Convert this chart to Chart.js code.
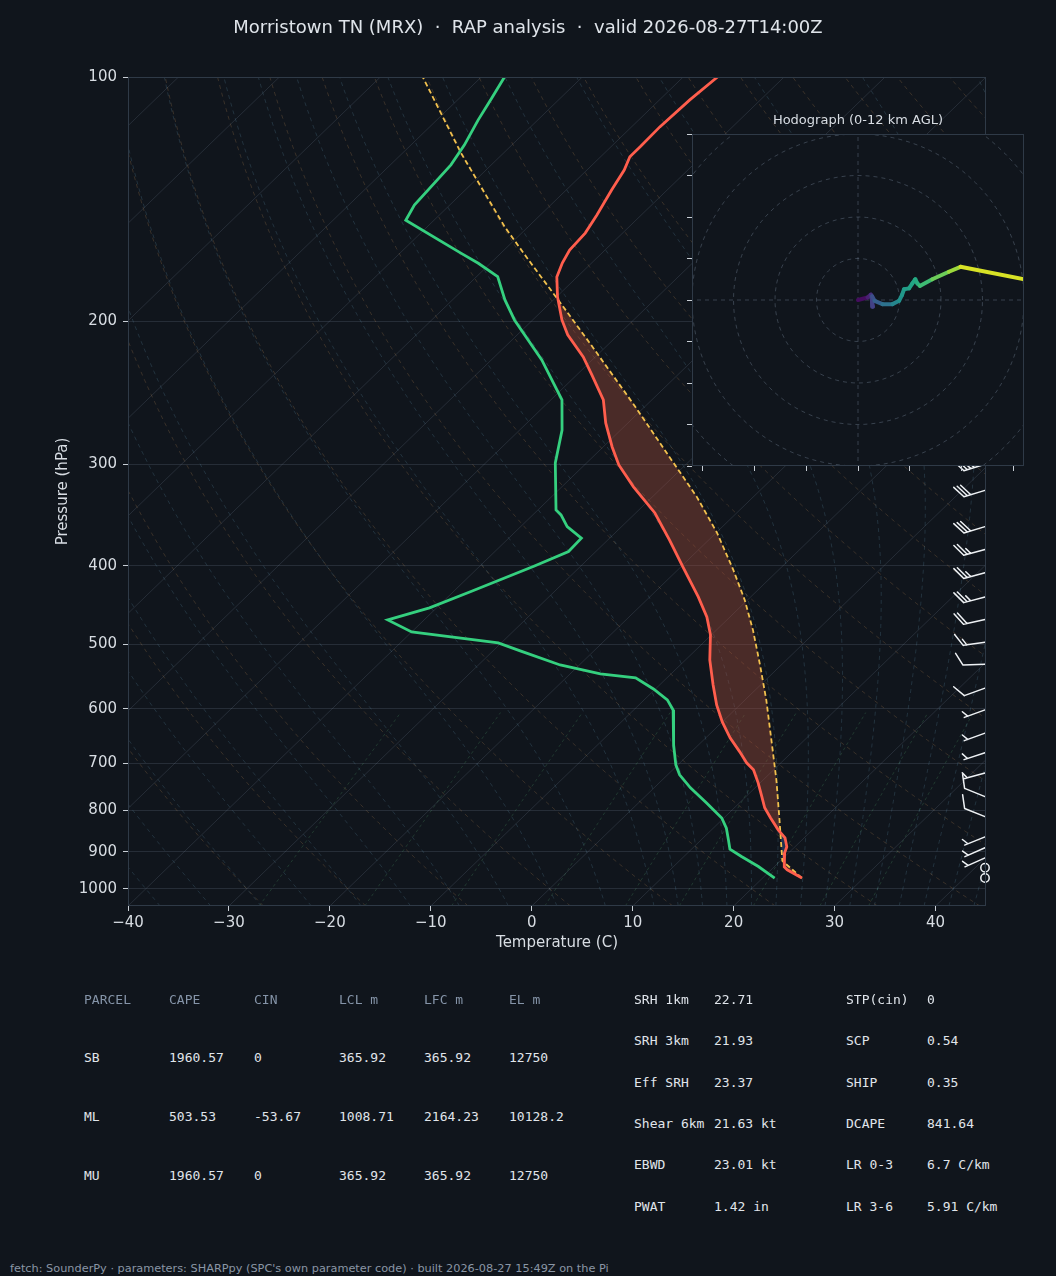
<!DOCTYPE html>
<html>
<head>
<meta charset="utf-8">
<title>Skew-T MRX</title>
<script src="https://cdn.jsdelivr.net/npm/chart.js@4.4.1/dist/chart.umd.min.js"></script>
<style>
  html, body { margin: 0; padding: 0; background: #10151c; }
  body { position: relative; width: 1056px; height: 1276px; overflow: hidden; font-family: "DejaVu Sans", sans-serif; color: #dfe4ea; }
  #title { position: absolute; left: 0; top: 16px; width: 1056px; text-align: center; font-size: 18px; line-height: 22px; white-space: pre; }
  #skewBox { position: absolute; left: 0; top: 0; width: 1056px; height: 1000px; }
  #hodoBox { position: absolute; left: 682px; top: 124px; width: 346px; height: 352px; }
  #hodoTitle { position: absolute; left: 692px; top: 112px; width: 332px; text-align: center; font-size: 13px; line-height: 16px; color: #d8dde3; }
  .cell { position: absolute; font-family: "DejaVu Sans Mono", monospace; font-size: 13px; line-height: 16px; white-space: pre; color: #e0e5eb; }
  .hdr { color: #8594a8; }
  #foot { position: absolute; left: 10px; top: 1262px; font-size: 11.3px; line-height: 14px; color: #8a96a5; white-space: pre; }
</style>
</head>
<body>
<div id="skewBox"><canvas id="skew"></canvas></div>
<div id="title">Morristown TN (MRX)  ·  RAP analysis  ·  valid 2026-08-27T14:00Z</div>
<div id="hodoTitle">Hodograph (0-12 km AGL)</div>
<div id="hodoBox"><canvas id="hodo"></canvas></div>
<div id="tables"></div>
<div id="foot">fetch: SounderPy · parameters: SHARPpy (SPC's own parameter code) · built 2026-08-27 15:49Z on the Pi</div>
<script>
// environment temperature (hPa, C)
const envP = [100, 106.7, 115.2, 121.9, 125.4, 130.2, 137.8, 147.9, 155.7, 163.4, 169.5, 176.4, 186.6, 199.2, 207.8,
  221.2, 232.8, 249.9, 266.8, 285.6, 300.5, 319.8, 344.4, 371.7, 401.3, 436.9, 462.4, 486.6, 522.4, 560.9, 593.6,
  622.9, 651.6, 678.1, 699.5, 713.5, 740.4, 770.3, 794.6, 817.5, 845.9, 865.4, 887.8, 903.0, 939.6, 947.6, 970];
const envT = [-66.6, -67.0, -67.2, -67.1, -67.1, -66.3, -65.5, -64.4, -63.7, -63.5, -62.9, -62.0, -59.9, -57.1, -55.0,
  -51.2, -48.5, -44.8, -42.2, -39.1, -36.6, -32.9, -28.1, -23.9, -19.8, -15.2, -12.3, -10.1, -7.6, -4.7, -2.3,
  0.0, 2.4, 4.8, 6.6, 8.0, 9.8, 11.6, 13.0, 14.6, 16.6, 18.1, 19.2, 19.6, 21.0, 21.6, 23.9];

// dewpoint
const dwpP = [100, 106.2, 113.0, 121.3, 128.3, 143.8, 150.1, 164.9, 169.6, 176.2, 188.2, 199.2, 223.1, 249.9, 272.2,
  298.8, 341.5, 346.3, 357.9, 369.9, 384.2, 400.2, 430.7, 450.8, 466.4, 482.6, 497.8, 509.3, 530.0, 543.6, 549.8,
  567.3, 585.2, 602.1, 628.1, 664.7, 703.6, 723.8, 750.9, 784.3, 818.1, 842.0, 870.4, 893.6, 912.5, 938.7, 970];
const dwpT = [-87.7, -86.8, -85.9, -84.7, -84.0, -83.5, -82.8, -73.9, -71.2, -67.9, -64.8, -61.8, -55.0, -48.9, -45.8,
  -43.1, -38.2, -37.2, -35.4, -32.8, -32.7, -34.6, -38.3, -40.7, -43.6, -40.0, -30.3, -27.3, -21.9, -17.0, -13.1,
  -10.2, -7.7, -6.1, -4.5, -2.5, -0.2, 1.2, 3.6, 6.8, 9.8, 11.3, 12.7, 13.8, 15.7, 18.4, 21.2];

// surface parcel path
const parP = [970, 923.9, 822.2, 734.2, 655.4, 585.2, 530.0, 479.8, 440.6, 404.7, 364.4, 329.0, 293.8, 252.0, 212.6,
  189.8, 167.1, 153.0, 124.1, 100];
const parT = [23.9, 20.2, 15.7, 11.3, 6.7, 2.1, -2.1, -6.4, -10.3, -14.5, -19.9, -25.6, -32.4, -41.6, -52.0,
  -59.0, -66.9, -72.3, -84.2, -95.8];

// wind barbs (hPa, kt, deg)
const barbP = [300, 323, 358, 382, 408, 437, 466, 497, 529, 566, 602, 643, 680, 720, 770, 815, 863, 890, 916, 942, 970];
const barbSpd = [35, 30, 30, 25, 25, 25, 20, 15, 10, 10, 5, 5, 5, 5, 10, 10, 5, 5, 5, 0, 0];
const barbDir = [253, 253, 253, 255, 255, 255, 258, 262, 268, 250, 250, 250, 252, 255, 292, 292, 248, 246, 246, 0, 0];

// hodograph (kt) and height (km AGL) for the colour
const hodoU = [0, 2.3, 3.1, 3.6, 3.4, 4.0, 5.9, 8.3, 9.9, 10.6, 11.1, 12.3, 13.1, 13.8, 14.3, 14.9, 17.9, 21.9, 24.7, 45];
const hodoV = [0, 0.6, 1.3, -1.6, 0.9, -0.2, -1.0, -1.0, -0.2, 1.2, 2.6, 2.8, 4.0, 5.0, 4.0, 3.4, 5.0, 6.8, 8.0, 4.0];
const hodoZ = [0, 0.8, 1.4, 2.0, 2.6, 3.2, 4.0, 5.0, 5.8, 6.2, 6.5, 6.8, 7.0, 7.2, 7.4, 7.6, 8.8, 9.8, 10.6, 12];

const pTicks = [100, 200, 300, 400, 500, 600, 700, 800, 900, 1000];
const tTicks = [-40, -30, -20, -10, 0, 10, 20, 30, 40];
const hodoXTicks = [-37.5, -25, -12.5, 0, 12.5, 25, 37.5];
const hodoYTicks = [-40, -30, -20, -10, 0, 10, 20, 30, 40];

// parameter tables
const parcelHead = ['PARCEL', 'CAPE', 'CIN', 'LCL m', 'LFC m', 'EL m'];
const parcelRows = [
  ['SB', '1960.57', '0', '365.92', '365.92', '12750'],
  ['ML', '503.53', '-53.67', '1008.71', '2164.23', '10128.2'],
  ['MU', '1960.57', '0', '365.92', '365.92', '12750']
];
const paramRows = [
  ['SRH 1km', '22.71', 'STP(cin)', '0'],
  ['SRH 3km', '21.93', 'SCP', '0.54'],
  ['Eff SRH', '23.37', 'SHIP', '0.35'],
  ['Shear 6km', '21.63 kt', 'DCAPE', '841.64'],
  ['EBWD', '23.01 kt', 'LR 0-3', '6.7 C/km'],
  ['PWAT', '1.42 in', 'LR 3-6', '5.91 C/km']
];

const P_BOT = 1050, P_TOP = 100, T_MIN = -40, T_MAX = 45;
const SKEW = (T_MAX - T_MIN) / Math.log10(P_BOT / P_TOP);
const BG = '#10151c';
const FRAME = '#2f3a47';
const TXT = '#d8dde3';

Chart.defaults.font.family = 'DejaVu Sans';

function skx(t, p) { return t + SKEW * Math.log10(P_BOT / p); }
function prof(P, T) { return P.map((p, i) => ({x: skx(T[i], p), y: p})); }

function interpT(P, T, p) {
  for (let i = 0; i < P.length - 1; i++) {
    const a = P[i], b = P[i + 1];
    if ((p - a) * (p - b) <= 0) {
      if (a === b) return T[i];
      const f = Math.log(p / a) / Math.log(b / a);
      return T[i] + f * (T[i + 1] - T[i]);
    }
  }
  return NaN;
}

// background reference lines
const bgP = [];
for (let i = 0; i <= 60; i++) bgP.push(P_BOT * Math.pow(P_TOP / P_BOT, i / 60));

function lapse(t, p) {
  const Rd = 287.04, Cp = 1005.7, Lv = 2.501e6, eps = 0.622;
  const es = 6.112 * Math.exp(17.67 * (t - 273.15) / (t - 29.65));
  const rs = eps * es / (p - es);
  return (Rd * t + Lv * rs) / (Cp + Lv * Lv * rs * eps / (Rd * t * t)) / p;
}

function moistLine(t0) {
  const up = [], dn = [];
  let t = t0 + 273.15, p = 1000;
  up.push({x: skx(t0, 1000), y: 1000});
  while (p > P_TOP) {
    const dp = -5;
    const k1 = lapse(t, p), k2 = lapse(t + k1 * dp / 2, p + dp / 2);
    t += k2 * dp; p += dp;
    up.push({x: skx(t - 273.15, p), y: p});
  }
  t = t0 + 273.15; p = 1000;
  while (p < P_BOT) {
    const dp = 5;
    const k1 = lapse(t, p), k2 = lapse(t + k1 * dp / 2, p + dp / 2);
    t += k2 * dp; p += dp;
    dn.unshift({x: skx(t - 273.15, p), y: p});
  }
  return dn.concat(up);
}

function bgLine(data, color, dash) {
  return {data, showLine: true, borderColor: color, borderWidth: 1, borderDash: dash, pointRadius: 0, fill: false, order: 20};
}

const datasets = [];
for (let t = -130; t <= 40; t += 10) {
  datasets.push(bgLine([{x: skx(t, P_BOT), y: P_BOT}, {x: skx(t, P_TOP), y: P_TOP}], 'rgba(150,168,188,0.17)', []));
}
for (let t0 = -30; t0 <= 200; t0 += 10) {
  datasets.push(bgLine(bgP.map(p => ({x: skx((t0 + 273.15) * Math.pow(p / 1000, 0.2857) - 273.15, p), y: p})),
    'rgba(205,150,90,0.22)', [4, 4]));
}
const moistT0 = [-50, -45, -40, -35, -30, -25, -20, -15, -10, -5, 0, 5, 10, 12.5, 15, 17.5, 20, 22.5, 25, 27.5, 30, 32.5, 35, 37.5, 40, 42.5, 45];
moistT0.forEach(t0 => datasets.push(bgLine(moistLine(t0), 'rgba(110,170,200,0.2)', [4, 4])));
const mixW = [0.0004, 0.001, 0.002, 0.004, 0.007, 0.01, 0.016, 0.024, 0.032];
mixW.forEach(w => {
  const pts = bgP.filter(p => p >= 600).map(p => {
    const e = p * w / (0.622 + w), l = Math.log(e / 6.112);
    return {x: skx(243.5 * l / (17.67 - l), p), y: p};
  });
  datasets.push(bgLine(pts, 'rgba(100,200,130,0.2)', [3, 3]));
});

// CAPE / CIN shading between the parcel and the environment
const levels = [...new Set([...envP, ...parP])].filter(p => p >= 100 && p <= 970).sort((a, b) => b - a);
function areaShape(keep, pick) {
  const lv = levels.filter(keep);
  const pts = lv.map(p => ({x: skx(interpT(envP, envT, p), p), y: p}));
  lv.slice().reverse().forEach(p => {
    pts.push({x: skx(pick(interpT(envP, envT, p), interpT(parP, parT, p)), p), y: p});
  });
  return pts;
}
datasets.push({data: areaShape(() => true, Math.max), showLine: true, borderWidth: 0, borderColor: 'rgba(0,0,0,0)',
  backgroundColor: 'rgba(170,80,60,0.38)', fill: 'shape', pointRadius: 0, order: 6});
datasets.push({data: areaShape(p => p >= 700, Math.min), showLine: true, borderWidth: 0, borderColor: 'rgba(0,0,0,0)',
  backgroundColor: 'rgba(60,110,190,0.35)', fill: 'shape', pointRadius: 0, order: 6});

datasets.push({data: prof(parP, parT), showLine: true, borderColor: '#f2c14e', borderWidth: 1.8, borderDash: [5, 3],
  pointRadius: 0, fill: false, order: 3});
datasets.push({data: prof(dwpP, dwpT), showLine: true, borderColor: '#35d07f', borderWidth: 2.8, pointRadius: 0,
  fill: false, order: 2});
datasets.push({data: prof(envP, envT), showLine: true, borderColor: '#ff5e4d', borderWidth: 2.8, pointRadius: 0,
  fill: false, order: 1});

const frame = {
  id: 'frame',
  afterDraw(chart) {
    const {ctx, chartArea: a} = chart;
    ctx.save();
    ctx.strokeStyle = FRAME;
    ctx.lineWidth = 1;
    ctx.strokeRect(a.left + 0.5, a.top + 0.5, a.width - 1, a.height - 1);
    ctx.restore();
  }
};

const barbs = {
  id: 'barbs',
  afterDatasetsDraw(chart) {
    const {ctx, chartArea, scales: {y}} = chart;
    const bx = chartArea.right - 1;
    ctx.save();
    ctx.strokeStyle = '#eef1f4';
    ctx.lineWidth = 1.5;
    ctx.lineCap = 'round';
    barbP.forEach((p, i) => {
      const by = y.getPixelForValue(p);
      const spd = barbSpd[i];
      ctx.beginPath();
      if (spd < 2.5) {
        ctx.arc(bx, by, 4.2, 0, 2 * Math.PI);
        ctx.stroke();
        return;
      }
      const r = barbDir[i] * Math.PI / 180;
      const sx = Math.sin(r), sy = -Math.cos(r);
      const nx = -sy, ny = sx;
      const L = 22, gap = 3.6;
      const ex = bx + L * sx, ey = by + L * sy;
      ctx.moveTo(bx, by);
      ctx.lineTo(ex, ey);
      let rest = Math.round(spd / 5) * 5;
      const full = Math.floor(rest / 10);
      rest -= full * 10;
      let pos = 0;
      for (let k = 0; k < full; k++) {
        const px = ex - pos * sx, py = ey - pos * sy;
        ctx.moveTo(px, py);
        ctx.lineTo(px + 12 * nx + 7 * sx, py + 12 * ny + 7 * sy);
        pos += gap;
      }
      if (rest >= 5) {
        if (full === 0) pos = gap;
        const px = ex - pos * sx, py = ey - pos * sy;
        ctx.moveTo(px, py);
        ctx.lineTo(px + 6 * nx + 3.5 * sx, py + 6 * ny + 3.5 * sy);
      }
      ctx.stroke();
    });
    ctx.restore();
  }
};

new Chart(document.getElementById('skew'), {
  type: 'scatter',
  data: {datasets},
  options: {
    responsive: true,
    maintainAspectRatio: false,
    animation: false,
    events: [],
    layout: {padding: {left: 0, right: 70, top: 77, bottom: 0}},
    plugins: {legend: {display: false}, tooltip: {enabled: false}},
    scales: {
      x: {
        type: 'linear', min: T_MIN, max: T_MAX,
        afterBuildTicks: s => { s.ticks = tTicks.map(v => ({value: v})); },
        afterFit: s => { s.height = 94; },
        ticks: {color: TXT, font: {size: 15}, padding: 3, maxRotation: 0, autoSkip: false,
          callback: v => v < 0 ? '\u2212' + Math.abs(v) : String(v)},
        grid: {drawOnChartArea: false, tickLength: 5, tickColor: '#c9cfd6'},
        border: {display: false},
        title: {display: true, text: 'Temperature (C)', color: TXT, font: {size: 15}, padding: {top: 0, bottom: 48}}
      },
      y: {
        type: 'logarithmic', reverse: true, min: P_TOP, max: P_BOT,
        afterBuildTicks: s => { s.ticks = pTicks.map(v => ({value: v})); },
        afterFit: s => { s.width = 128; },
        ticks: {color: TXT, font: {size: 15}, padding: 6, autoSkip: false, callback: v => String(v)},
        grid: {color: 'rgba(150,168,188,0.17)', tickLength: 5, tickColor: '#c9cfd6'},
        border: {display: false},
        title: {display: true, text: 'Pressure (hPa)', color: TXT, font: {size: 15}, padding: {top: 54, bottom: 0}}
      }
    }
  },
  plugins: [frame, barbs]
});

// hodograph inset
const viridis = ['#440154', '#482475', '#414487', '#355f8d', '#2a788e', '#21918c', '#22a884', '#44bf70', '#7ad151', '#bddf26', '#fde725'];
function hex(c) { return [1, 3, 5].map(i => parseInt(c.substr(i, 2), 16)); }
function cmap(f) {
  f = Math.max(0, Math.min(1, f)) * 10;
  const i = Math.min(9, Math.floor(f)), t = f - i;
  const a = hex(viridis[i]), b = hex(viridis[i + 1]);
  return 'rgb(' + a.map((v, k) => Math.round(v + (b[k] - v) * t)).join(',') + ')';
}

const hodoSets = [];
for (let r = 10; r <= 60; r += 10) {
  const pts = [];
  for (let i = 0; i <= 120; i++) {
    const a = i / 120 * 2 * Math.PI;
    pts.push({x: r * Math.cos(a), y: r * Math.sin(a)});
  }
  hodoSets.push({data: pts, showLine: true, borderColor: 'rgba(140,160,180,0.32)', borderWidth: 1, borderDash: [4, 4], pointRadius: 0, order: 10});
}
hodoSets.push({data: [{x: -60, y: 0}, {x: 60, y: 0}], showLine: true, borderColor: 'rgba(140,160,180,0.32)', borderWidth: 1, borderDash: [4, 4], pointRadius: 0, order: 10});
hodoSets.push({data: [{x: 0, y: -60}, {x: 0, y: 60}], showLine: true, borderColor: 'rgba(140,160,180,0.32)', borderWidth: 1, borderDash: [4, 4], pointRadius: 0, order: 10});
hodoSets.push({
  data: hodoU.map((u, i) => ({x: u, y: hodoV[i]})),
  showLine: true, borderWidth: 4, pointRadius: 0, order: 1, borderJoinStyle: 'round', borderCapStyle: 'round',
  segment: {borderColor: c => cmap((hodoZ[c.p0DataIndex] + hodoZ[c.p1DataIndex]) / 24)}
});

const boxBg = {
  id: 'boxBg',
  beforeDraw(chart) {
    const {ctx, chartArea: a} = chart;
    ctx.save();
    ctx.fillStyle = BG;
    ctx.fillRect(a.left, a.top, a.width, a.height);
    ctx.restore();
  }
};

new Chart(document.getElementById('hodo'), {
  type: 'scatter',
  data: {datasets: hodoSets},
  options: {
    responsive: true,
    maintainAspectRatio: false,
    animation: false,
    events: [],
    layout: {padding: {left: 0, right: 4, top: 10, bottom: 0}},
    plugins: {legend: {display: false}, tooltip: {enabled: false}},
    scales: {
      x: {
        type: 'linear', min: -40, max: 40,
        afterBuildTicks: s => { s.ticks = hodoXTicks.map(v => ({value: v})); },
        afterFit: s => { s.height = 10; },
        ticks: {display: false},
        grid: {drawOnChartArea: false, tickLength: 5, tickColor: '#c9cfd6'},
        border: {display: false}
      },
      y: {
        type: 'linear', min: -40, max: 40,
        afterBuildTicks: s => { s.ticks = hodoYTicks.map(v => ({value: v})); },
        afterFit: s => { s.width = 10; },
        ticks: {display: false},
        grid: {drawOnChartArea: false, tickLength: 5, tickColor: '#c9cfd6'},
        border: {display: false}
      }
    }
  },
  plugins: [boxBg, frame]
});

// text tables under the diagram
const tables = document.getElementById('tables');
function cell(txt, x, y, cls) {
  const d = document.createElement('div');
  d.className = 'cell' + (cls ? ' ' + cls : '');
  d.textContent = txt;
  d.style.left = x + 'px';
  d.style.top = (y - 8) + 'px';
  tables.appendChild(d);
}
const parcelX = [84, 169, 254, 339, 424, 509];
const parcelY = [1000, 1058, 1117, 1176];
parcelHead.forEach((h, j) => cell(h, parcelX[j], parcelY[0], 'hdr'));
parcelRows.forEach((row, i) => row.forEach((v, j) => cell(v, parcelX[j], parcelY[i + 1])));
const paramX = [634, 714, 846, 927];
const paramY = [1000, 1041, 1083, 1124, 1165, 1207];
paramRows.forEach((row, i) => row.forEach((v, j) => cell(v, paramX[j], paramY[i])));
</script>
</body>
</html>
